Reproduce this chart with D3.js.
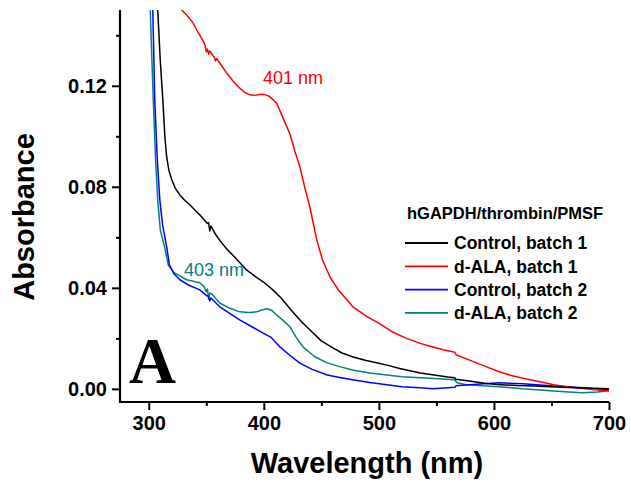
<!DOCTYPE html>
<meta charset="utf-8">
<script src="https://d3js.org/d3.v7.min.js"></script>
<style>
  body { margin: 0; background: #fff; }
  svg { font-family: "Liberation Sans", Arial, sans-serif; }
</style>
<div id="chart"></div>
<script>

// series: [wavelength (nm), absorbance]
var control1 = [[300,0.24],[305,0.18],[307.8,0.150],[310,0.130],[312.2,0.1145],[314,0.100],[315.5,0.092],[317.5,0.0865],[320,0.0828],[323,0.0795],[327,0.0768],[331,0.0748],[335.7,0.0729],[340,0.0708],[344.3,0.0689],[348,0.067],[351,0.0655],[352,0.0658],[353,0.0625],[354,0.0645],[358,0.0612],[363,0.058],[368,0.0553],[375,0.052],[385,0.0471],[395,0.0437],[400,0.0422],[407.8,0.0392],[415,0.036],[425,0.0305],[433,0.0265],[442.6,0.0222],[450,0.019],[460,0.0162],[468,0.0142],[477,0.0127],[488,0.0113],[498,0.0103],[508,0.0093],[518,0.0081],[527,0.0072],[536,0.0063],[548,0.0055],[560,0.0047],[566,0.0044],[567,0.0038],[580,0.003],[592,0.0022],[603,0.0017],[620,0.0013],[635,0.0011],[649,0.0008],[665,0.0005],[680,0.0003],[700,0.0]];

var dala1 = [[320,0.17],[328.7,0.150],[333,0.148],[338.3,0.145],[343,0.141],[347,0.138],[349,0.136],[350,0.1335],[351,0.1345],[352,0.1325],[353,0.1338],[355,0.1325],[357,0.1312],[358,0.1298],[359,0.1308],[362,0.1288],[367,0.1255],[373,0.122],[378,0.1195],[383,0.1175],[388,0.1164],[392,0.1162],[396,0.1165],[400,0.1166],[404,0.116],[408,0.1145],[411.3,0.113],[416,0.108],[422.6,0.101],[427,0.094],[431.3,0.088],[436,0.079],[440,0.072],[446,0.059],[451,0.051],[457.4,0.0444],[465,0.039],[477.4,0.0325],[490,0.0285],[500,0.026],[512,0.0225],[524,0.020],[536,0.018],[547,0.0166],[556,0.0155],[566,0.0145],[567,0.0135],[580,0.0112],[592,0.009],[604,0.0069],[615,0.0053],[628,0.0039],[640,0.0028],[652,0.0016],[663,0.0008],[675,0.0002],[688,-0.0004],[700,-0.0007]];

var control2 = [[300,0.19],[303.5,0.150],[305.2,0.1145],[307.5,0.09],[309.6,0.0748],[312,0.065],[315.7,0.0558],[318,0.049],[322,0.0455],[327,0.0432],[335,0.041],[344.3,0.0392],[350,0.037],[352,0.0365],[353,0.0348],[354,0.036],[361.7,0.0325],[370,0.030],[379,0.0273],[390,0.0245],[399,0.0222],[406,0.0205],[414,0.0166],[422,0.0135],[431,0.0103],[442,0.0077],[455,0.0055],[466,0.0045],[477,0.0036],[492,0.0025],[507,0.0016],[520,0.0008],[536,0.0004],[547,0.0],[560,0.0004],[566,0.0006],[567,0.0012],[585,0.0018],[605,0.0024],[625,0.002],[649,0.0012],[665,0.0008],[677,0.0004],[700,-0.0004]];

var dala2 = [[300,0.17],[301.3,0.150],[303.9,0.1145],[306,0.09],[307.8,0.0748],[310,0.063],[313.9,0.0558],[317,0.049],[322,0.046],[333,0.0432],[344.3,0.042],[348,0.0405],[350,0.0385],[351,0.0395],[352,0.0355],[353,0.038],[355,0.0375],[361.7,0.034],[370,0.032],[379,0.0305],[387,0.0302],[394,0.0305],[398,0.0312],[403,0.0317],[407,0.031],[411,0.0293],[417,0.027],[422.6,0.0246],[428,0.0205],[434,0.0166],[444,0.0128],[455,0.0103],[466,0.0088],[477,0.0075],[492,0.0063],[507,0.0055],[520,0.0048],[536,0.0044],[552,0.004],[566,0.0036],[568,0.0024],[576,0.0016],[590,0.0012],[605,0.0008],[625,0.0],[649,-0.0007],[665,-0.0012],[677,-0.0015],[690,-0.0012],[700,-0.0007]];

var seriesNames = ["Control, batch 1", "d-ALA, batch 1", "Control, batch 2", "d-ALA, batch 2"];
var seriesColors = ["#000000", "#ff0000", "#0000ff", "#008080"];
var seriesData = [control1, dala1, control2, dala2];

var xTicks = [300, 400, 500, 600, 700];
var xMinor = [350, 450, 550, 650];
var yTicks = [0.00, 0.04, 0.08, 0.12];
var yMinor = [0.02, 0.06, 0.10, 0.14];

var width = 631, height = 493;
var margin = {left: 120, right: 609, top: 10, bottom: 402};

var svg = d3.select("#chart").append("svg")
    .attr("width", width)
    .attr("height", height);

var x = d3.scaleLinear().domain([275, 700]).range([margin.left, margin.right]);
var y = d3.scaleLinear().domain([-0.0052, 0.15]).range([margin.bottom, margin.top]);

svg.append("clipPath").attr("id", "plot-clip")
  .append("rect")
    .attr("x", margin.left + 1).attr("y", margin.top)
    .attr("width", margin.right - margin.left + 4).attr("height", margin.bottom - margin.top - 1);

// curves
var line = d3.line()
    .x(function(d) { return x(d[0]); })
    .y(function(d) { return y(d[1]); });

var plot = svg.append("g").attr("clip-path", "url(#plot-clip)");
// drawing order: teal, blue, red, black
[3, 2, 1, 0].forEach(function(i) {
  plot.append("path")
    .datum(seriesData[i])
    .attr("fill", "none")
    .attr("stroke", seriesColors[i])
    .attr("stroke-width", 1.5)
    .attr("stroke-linejoin", "round")
    .attr("d", line);
});

// axes
var xAxis = svg.append("g")
    .attr("transform", "translate(0," + margin.bottom + ")")
    .call(d3.axisBottom(x).tickValues(xTicks).tickSize(8).tickSizeOuter(0).tickPadding(6));
svg.append("g")
    .attr("transform", "translate(0," + margin.bottom + ")")
    .call(d3.axisBottom(x).tickValues(xMinor).tickSize(4).tickSizeOuter(0).tickFormat(""))
    .select(".domain").remove();

var yAxis = svg.append("g")
    .attr("transform", "translate(" + margin.left + ",0)")
    .call(d3.axisLeft(y).tickValues(yTicks).tickSize(8).tickSizeOuter(0).tickPadding(5)
      .tickFormat(d3.format(".2f")));
svg.append("g")
    .attr("transform", "translate(" + margin.left + ",0)")
    .call(d3.axisLeft(y).tickValues(yMinor).tickSize(4).tickSizeOuter(0).tickFormat(""))
    .select(".domain").remove();

svg.selectAll(".domain").attr("stroke-width", 2.2).attr("stroke", "#000");
svg.selectAll(".tick line").attr("stroke-width", 2).attr("stroke", "#000");
svg.selectAll(".tick text")
    .attr("font-size", 20).attr("font-weight", "bold")
    .attr("font-family", "Liberation Sans, Arial, sans-serif").attr("fill", "#000");

// join the two axis lines at the corner
xAxis.select(".domain").attr("d", "M" + (margin.left - 1) + ",0H" + margin.right);
yAxis.select(".domain").attr("d", "M0," + margin.top + "V" + (margin.bottom + 1));

// axis titles
svg.append("text")
    .attr("transform", "translate(34,217) rotate(-90)")
    .attr("text-anchor", "middle")
    .attr("font-size", 29).attr("font-weight", "bold")
    .text("Absorbance");

svg.append("text")
    .attr("x", 367).attr("y", 473)
    .attr("text-anchor", "middle")
    .attr("font-size", 29).attr("font-weight", "bold")
    .text("Wavelength (nm)");

// panel letter
svg.append("text")
    .attr("x", 129).attr("y", 383)
    .attr("font-family", "Liberation Serif, Times New Roman, serif")
    .attr("font-size", 65).attr("font-weight", "bold")
    .text("A");

// peak labels
svg.append("text")
    .attr("x", 263).attr("y", 84)
    .attr("font-size", 18).attr("fill", "#ff0000")
    .text("401 nm");
svg.append("text")
    .attr("x", 184).attr("y", 276)
    .attr("font-size", 18).attr("fill", "#008080")
    .text("403 nm");

// legend
var legend = svg.append("g");
legend.append("text")
    .attr("x", 407).attr("y", 219)
    .attr("font-size", 16.5).attr("font-weight", "bold")
    .text("hGAPDH/thrombin/PMSF");

var rows = legend.selectAll("g.row")
    .data(seriesNames)
  .enter().append("g")
    .attr("class", "row")
    .attr("transform", function(d, i) { return "translate(0," + (243 + i * 23.3) + ")"; });
rows.append("line")
    .attr("x1", 405).attr("x2", 448)
    .attr("stroke", function(d, i) { return seriesColors[i]; })
    .attr("stroke-width", 1.8);
rows.append("text")
    .attr("x", 454).attr("y", 0).attr("dy", "0.36em")
    .attr("font-size", 17.5).attr("font-weight", "bold")
    .text(function(d) { return d; });

</script>
